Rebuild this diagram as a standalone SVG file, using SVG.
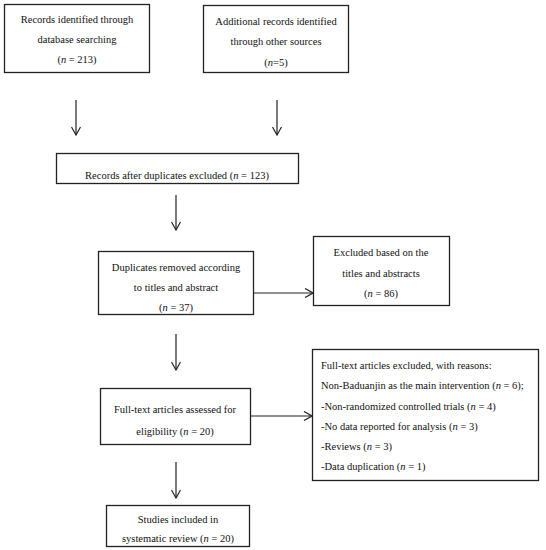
<svg xmlns="http://www.w3.org/2000/svg" width="546" height="550" viewBox="0 0 546 550">
<defs>
<style>
.box{fill:#fff;stroke:#222;stroke-width:1.3}
text{font-family:"Liberation Serif","Times New Roman",serif;font-size:10.5px;fill:#111}
.c{text-anchor:middle}
.con{stroke:#222;stroke-width:1.2;fill:none}
</style>
<marker id="ah" viewBox="0 0 10 10" refX="9" refY="5" markerWidth="10" markerHeight="10" markerUnits="userSpaceOnUse" orient="auto">
<path d="M1,0.5 L9,5 L1,9.5" fill="none" stroke="#222" stroke-width="1.2"/>
</marker>
</defs>
<rect width="546" height="550" fill="#fff"/>
<g id="connectors">
<line class="con" x1="76" y1="100" x2="76" y2="135" marker-end="url(#ah)"/>
<line class="con" x1="277" y1="100" x2="277" y2="135" marker-end="url(#ah)"/>
<line class="con" x1="176" y1="195" x2="176" y2="230" marker-end="url(#ah)"/>
<line class="con" x1="254" y1="293" x2="313" y2="293" marker-end="url(#ah)"/>
<line class="con" x1="176" y1="334" x2="176" y2="370" marker-end="url(#ah)"/>
<line class="con" x1="251" y1="416" x2="312" y2="416" marker-end="url(#ah)"/>
<line class="con" x1="176" y1="462" x2="176" y2="498" marker-end="url(#ah)"/>
</g>
<g font-family="Liberation Serif, Times New Roman, serif">
<g id="n1">
<rect class="box" x="4.5" y="4.5" width="145" height="68"/>
<text class="c" x="77" y="23">Records identified through</text>
<text class="c" x="77" y="43">database searching</text>
<text class="c" x="77" y="63">(<tspan font-style="italic">n</tspan> = 213)</text>
</g>
<g id="n2">
<rect class="box" x="203.5" y="5.5" width="145" height="67"/>
<text class="c" x="276" y="25">Additional records identified</text>
<text class="c" x="276" y="45">through other sources</text>
<text class="c" x="276" y="66">(<tspan font-style="italic">n</tspan>=5)</text>
</g>
<g id="n3">
<rect class="box" x="56.5" y="153.5" width="242" height="30"/>
<text class="c" x="177" y="179">Records after duplicates excluded (<tspan font-style="italic">n</tspan> = 123)</text>
</g>
<g id="n4">
<rect class="box" x="98.5" y="251.5" width="155" height="63"/>
<text class="c" x="176" y="271">Duplicates removed according</text>
<text class="c" x="176" y="291">to titles and abstract</text>
<text class="c" x="176" y="311">(<tspan font-style="italic">n</tspan> = 37)</text>
</g>
<g id="n5">
<rect class="box" x="313.5" y="236.5" width="136" height="69"/>
<text class="c" x="381" y="256">Excluded based on the</text>
<text class="c" x="381" y="277">titles and abstracts</text>
<text class="c" x="381" y="297">(<tspan font-style="italic">n</tspan> = 86)</text>
</g>
<g id="n6">
<rect class="box" x="100.5" y="388.5" width="150" height="56"/>
<text class="c" x="175" y="413">Full-text articles assessed for</text>
<text class="c" x="175" y="435">eligibility (<tspan font-style="italic">n</tspan> = 20)</text>
</g>
<g id="n7">
<rect class="box" x="312.5" y="349.5" width="226" height="131"/>
<text x="321" y="369">Full-text articles excluded, with reasons:</text>
<text x="321" y="389">Non-Baduanjin as the main intervention (<tspan font-style="italic">n</tspan> = 6);</text>
<text x="321" y="410">-Non-randomized controlled trials (<tspan font-style="italic">n</tspan> = 4)</text>
<text x="321" y="430">-No data reported for analysis (<tspan font-style="italic">n</tspan> = 3)</text>
<text x="321" y="450">-Reviews (<tspan font-style="italic">n</tspan> = 3)</text>
<text x="321" y="470">-Data duplication (<tspan font-style="italic">n</tspan> = 1)</text>
</g>
<g id="n8">
<rect class="box" x="106.5" y="505.5" width="143" height="41"/>
<text class="c" x="178" y="523">Studies included in</text>
<text class="c" x="178" y="542">systematic review (<tspan font-style="italic">n</tspan> = 20)</text>
</g>
</g>
</svg>
